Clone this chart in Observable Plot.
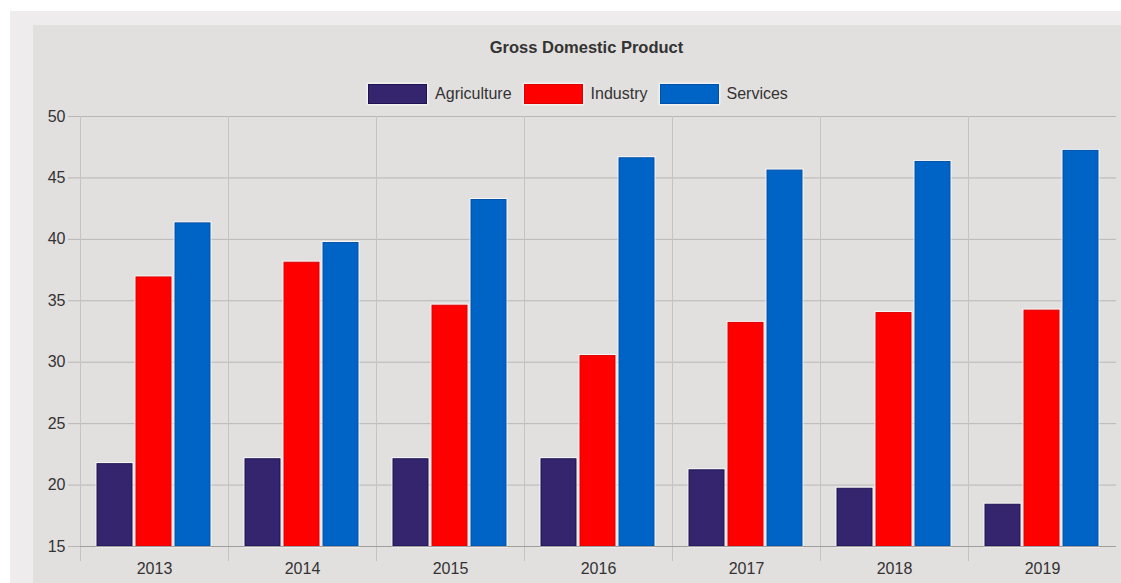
<!DOCTYPE html>
<html>
<head>
<meta charset="utf-8">
<script src="https://cdn.jsdelivr.net/npm/d3@7"></script>
<script src="https://cdn.jsdelivr.net/npm/@observablehq/plot@0.6"></script>
<style>
  html, body { margin: 0; padding: 0; background: #ffffff; width: 1121px; height: 583px; overflow: hidden; }
  body { font-family: "Liberation Sans", Arial, sans-serif; position: relative; }
  #outer { position: absolute; left: 10px; top: 11px; width: 1111px; height: 572px; background: #eeecec; }
  #panel { position: absolute; left: 33px; top: 25px; width: 1088px; height: 558px; background: #e2dfdf; }
  #title { position: absolute; left: 33px; top: 38px; width: 1107px; text-align: center; font-weight: bold; font-size: 16.5px; color: #333; }
  #legend { position: absolute; left: 0; top: 84px; width: 1156px; display: flex; justify-content: center; align-items: center; gap: 0; font-size: 16px; color: #333; }
  .item { display: flex; align-items: center; margin: 0 6px; }
  .sw { width: 57px; height: 18px; margin-right: 8px; box-shadow: 0 0 2px 1px rgba(255,255,255,0.8); }
  #chart { position: absolute; left: 33px; top: 100px; }
</style>
</head>
<body>
<div id="outer"></div>
<div id="panel"></div>
<div id="title">Gross Domestic Product</div>
<div id="legend"></div>
<div id="chart"></div>
<script>
const years = ["2013", "2014", "2015", "2016", "2017", "2018", "2019"];
const seriesNames = ["Agriculture", "Industry", "Services"];
const agriculture = [21.7, 22.1, 22.1, 22.1, 21.2, 19.7, 18.4];
const industry = [36.9, 38.1, 34.6, 30.5, 33.2, 34.0, 34.2];
const services = [41.3, 39.7, 43.2, 46.6, 45.6, 46.3, 47.2];
const yTicks = [15, 20, 25, 30, 35, 40, 45, 50];
const colors = ["#35256f", "#ff0000", "#0063c6"];
const borders = ["#1c1350", "#dd0000", "#0052a8"];

const valuesBySeries = [agriculture, industry, services];
const rows = [];
years.forEach((y, i) => {
  seriesNames.forEach((s, j) => rows.push({year: y, series: s, value: valuesBySeries[j][i]}));
});
const yMin = yTicks[0], yMax = yTicks[yTicks.length - 1];

// legend
const legend = document.getElementById("legend");
seriesNames.forEach((s, j) => {
  const it = document.createElement("div");
  it.className = "item";
  const sw = document.createElement("div");
  sw.className = "sw";
  sw.style.background = colors[j];
  sw.style.border = "1px solid " + borders[j];
  const t = document.createElement("span");
  t.textContent = s;
  it.appendChild(sw); it.appendChild(t);
  legend.appendChild(it);
});

const chart = Plot.plot({
  width: 1088,
  height: 483,
  marginLeft: 47,
  marginRight: 5,
  marginTop: 16,
  marginBottom: 37,
  style: { background: "transparent", fontFamily: "Liberation Sans, Arial, sans-serif", fontSize: "16px", color: "#333" },
  fx: { domain: years, padding: 0, label: null },
  x: { domain: seriesNames, paddingInner: 0.101, paddingOuter: 0.424, axis: null },
  y: { domain: [yMin, yMax], label: null },
  marks: [
    Plot.gridY(yTicks, { stroke: "#b9b6b6", strokeOpacity: 1 }),
    Plot.frame({ anchor: "left", stroke: "#c6c3c3", insetBottom: -14 }),
    Plot.axisY(yTicks, { tickSize: 12, tickPadding: 3, stroke: "#b8b5b5", fill: "#333", fontSize: 16, label: null }),
    Plot.axisFx({ anchor: "bottom", tickSize: 0, tickPadding: 16, fill: "#333", fontSize: 16, label: null }),
    Plot.barY(rows, { fx: "year", x: "series", y1: () => yMin, y2: "value", fill: "none", stroke: "#ffffff", strokeOpacity: 0.75, strokeWidth: 3 }),
    Plot.barY(rows, { fx: "year", x: "series", y1: () => yMin, y2: "value", fill: d => colors[seriesNames.indexOf(d.series)], stroke: d => borders[seriesNames.indexOf(d.series)], strokeWidth: 1 }),
    Plot.ruleY([yMin], { stroke: "#a09d9d" })
  ]
});
document.getElementById("chart").appendChild(chart);
</script>
</body>
</html>
